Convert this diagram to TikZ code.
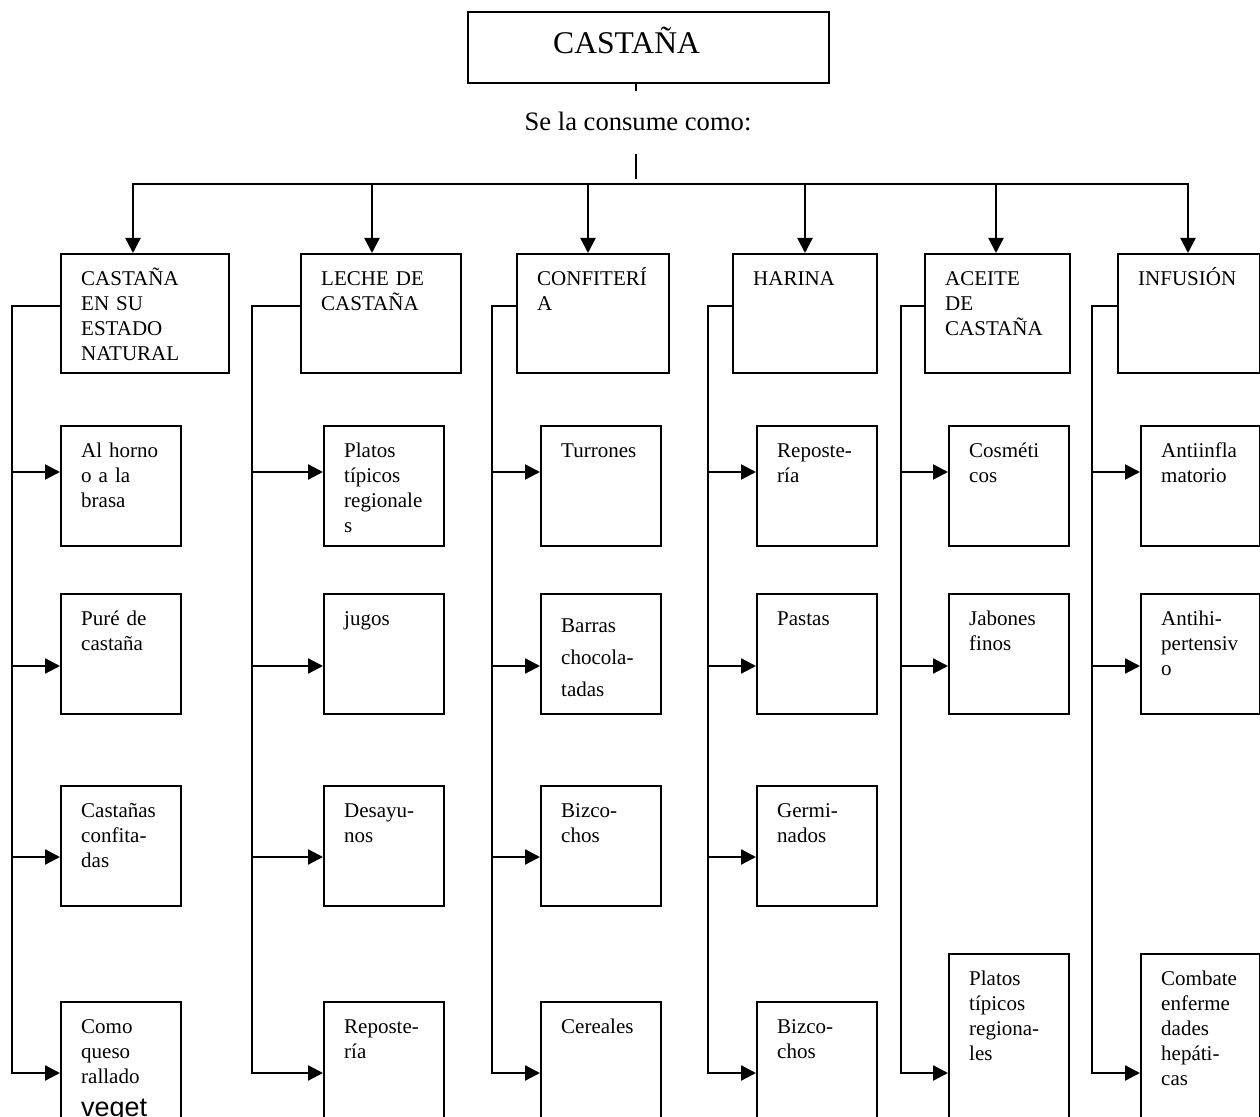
\documentclass[tikz,border=0pt]{standalone}
\usepackage{fontspec}
\setmainfont{Liberation Serif}
\setsansfont{Liberation Sans}
\usetikzlibrary{arrows.meta}
\hyphenpenalty=10000

\begin{document}
\begin{tikzpicture}[
    x=0.5pt, y=-0.5pt,
    every node/.style={font=\fontsize{10.5}{12.5}\selectfont},
    wire/.style={line width=1.15pt, line cap=rect},
    >={Triangle[length=7.5pt,width=7.5pt]},
    cell/.style={draw, line width=1.2pt, anchor=north west, align=left,
      inner xsep=10pt, inner ysep=0pt, text width=40pt,
      text height=15.5pt, text depth=44.5pt},
    head/.style={cell, text width=#1, text depth=44pt},
    tall/.style={cell, text depth=100pt}
  ]
  \useasboundingbox (0,0) rectangle (1260,1117);

  % title
  \node[draw, line width=1.2pt, anchor=north west, align=left, inner xsep=42.5pt,
        inner ysep=0pt, text width=95.5pt, text height=20.5pt, text depth=15pt,
        font=\fontsize{15.8}{19}\selectfont] (castana) at (467,11) {CASTAÑA};
  \node[anchor=base, font=\fontsize{13.3}{16}\selectfont] (consume) at (638,131) {Se la consume como:};

  % ways of consumption
  \node[head=64pt]   (h1) at (60,253)   {CASTAÑA\\EN SU\\ESTADO\\NATURAL};
  \node[head=60pt]   (h2) at (300,253)  {LECHE DE\\CASTAÑA};
  \node[head=56pt]   (h3) at (516,253)  {CONFITERÍ\\A};
  \node[head=52pt]   (h4) at (732,253)  {HARINA};
  \node[head=52.5pt] (h5) at (924,253)  {ACEITE\\DE\\CASTAÑA};
  \node[head=51pt]   (h6) at (1117,253) {INFUSIÓN};

  % column 1
  \node[cell] (k11) at (60,425)  {Al horno\\o a la\\brasa};
  \node[cell] (k12) at (60,593)  {Puré de\\castaña};
  \node[cell] (k13) at (60,785)  {Castañas\\confita-\\das};
  \node[cell] (k14) at (60,1001) {Como\\queso\\rallado\\[4pt]{\sffamily\fontsize{13.5}{16}\selectfont veget}};
  % column 2
  \node[cell] (k21) at (323,425)  {Platos\\típicos\\regionale\\s};
  \node[cell] (k22) at (323,593)  {jugos};
  \node[cell] (k23) at (323,785)  {Desayu-\\nos};
  \node[cell] (k24) at (323,1001) {Reposte-\\ría};
  % column 3
  \node[cell] (k31) at (540,425)  {Turrones};
  \node[cell, text height=19pt, text depth=41pt, font=\fontsize{10.5}{16}\selectfont]
              (k32) at (540,593)  {Barras\\chocola-\\tadas};
  \node[cell] (k33) at (540,785)  {Bizco-\\chos};
  \node[cell] (k34) at (540,1001) {Cereales};
  % column 4
  \node[cell] (k41) at (756,425)  {Reposte-\\ría};
  \node[cell] (k42) at (756,593)  {Pastas};
  \node[cell] (k43) at (756,785)  {Germi-\\nados};
  \node[cell] (k44) at (756,1001) {Bizco-\\chos};
  % column 5
  \node[cell] (k51) at (948,425)  {Cosméti\\cos};
  \node[cell] (k52) at (948,593)  {Jabones\\finos};
  \node[tall] (k53) at (948,953)  {Platos\\típicos\\regiona-\\les};
  % column 6
  \node[cell, text width=39.5pt] (k61) at (1140,425) {Antiinfla\\matorio};
  \node[cell, text width=39.5pt] (k62) at (1140,593) {Antihi-\\pertensiv\\o};
  \node[tall, text width=39.5pt] (k63) at (1140,953) {Combate\\enferme\\dades\\hepáti-\\cas};

  % stem and bus
  \coordinate (tick) at (636,90);
  \coordinate (stem) at (636,155);
  \coordinate (bus) at (636,178);
  \draw[wire] (castana.south -| tick) -- (tick);
  \draw[wire] (stem) -- (bus);
  \draw[wire] (133,184) -- (1188,184);
  \foreach \n/\x in {h1/133, h2/372, h3/588, h4/805, h5/996, h6/1188}
    \draw[wire,->] (\x,184) -- (\n.north -| \x,0);

  % rails
  \foreach \n/\r/\k in {h1/12/k14, h2/252/k24, h3/492/k34, h4/708/k44, h5/901/k53, h6/1092/k63}
    \draw[wire,->] ([yshift=-26.5pt]\n.north west) -| (\r,1073) -- (\k.west |- 0,1073);
  \foreach \k/\r in {k11/12, k21/252, k31/492, k41/708, k51/901, k61/1092}
    \draw[wire,->] (\r,472) -- (\k.west |- 0,472);
  \foreach \k/\r in {k12/12, k22/252, k32/492, k42/708, k52/901, k62/1092}
    \draw[wire,->] (\r,666) -- (\k.west |- 0,666);
  \foreach \k/\r in {k13/12, k23/252, k33/492, k43/708}
    \draw[wire,->] (\r,857) -- (\k.west |- 0,857);
\end{tikzpicture}
\end{document}
